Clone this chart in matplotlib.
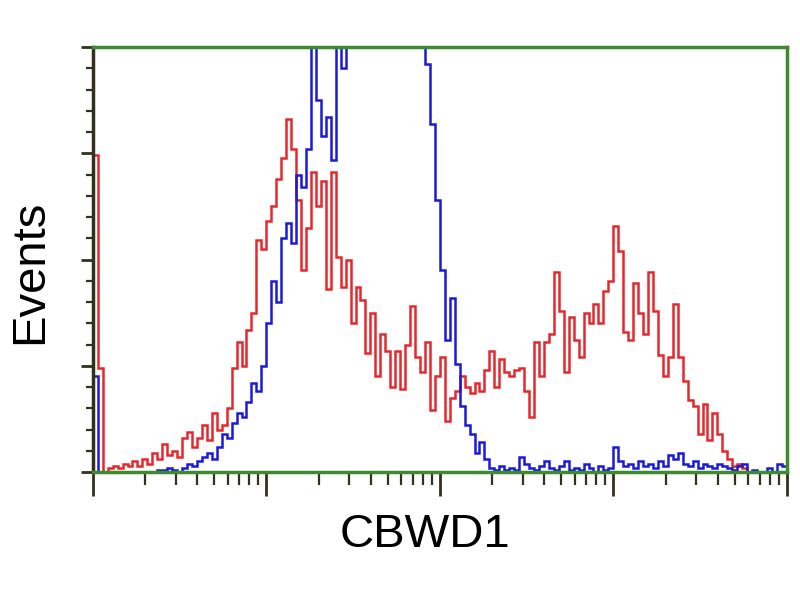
import numpy as np
import matplotlib
matplotlib.use("Agg")
import matplotlib.pyplot as plt
from matplotlib.ticker import LogLocator, MultipleLocator, NullFormatter

plt.rcParams['font.family'] = ['Liberation Sans', 'DejaVu Sans']

# Histogram channels: 35 per decade over 4 decades (10^0 .. 10^4)
chan_per_decade = 35
n_decades = 4

# Red histogram (sample), counts per channel
red_counts = [149, 49, 0, 2, 3, 2, 4, 3, 5, 3,
              6, 4, 9, 6, 13, 8, 10, 7, 16, 19,
              12, 16, 22, 15, 28, 20, 22, 30, 49, 61,
              50, 67, 75, 109, 105, 118, 125, 138, 148, 166,
              152, 128, 95, 115, 141, 125, 137, 86, 141, 101,
              87, 100, 70, 87, 81, 56, 75, 45, 65, 57,
              40, 57, 39, 60, 78, 54, 47, 61, 29, 45,
              54, 24, 35, 38, 45, 40, 37, 42, 38, 48,
              57, 40, 53, 47, 45, 48, 49, 38, 26, 61,
              45, 61, 65, 94, 76, 47, 73, 62, 54, 75,
              70, 79, 70, 85, 90, 116, 104, 66, 62, 89,
              75, 65, 94, 76, 55, 45, 54, 79, 54, 43,
              34, 31, 18, 32, 15, 28, 18, 10, 6, 3,
              4, 2, 0, 0, 0, 0, 0, 0, 0, 0]

# Blue histogram (control), counts per channel; peak runs off scale
blue_counts = [45, 0, 0, 0, 0, 0, 0, 0, 0, 0,
               0, 0, 0, 1, 1, 2, 1, 0, 2, 4,
               3, 5, 7, 9, 6, 12, 18, 16, 23, 28,
               26, 33, 42, 38, 50, 70, 90, 80, 110, 117,
               108, 140, 134, 152, 200, 175, 158, 167, 147, 215,
               190, 230, 250, 270, 290, 310, 320, 330, 325, 320,
               310, 290, 270, 250, 235, 220, 210, 192, 164, 128,
               95, 62, 82, 51, 31, 22, 18, 9, 14, 6,
               2, 1, 3, 1, 2, 1, 7, 4, 2, 1,
               3, 5, 2, 1, 3, 5, 1, 2, 1, 4,
               2, 0, 3, 1, 2, 12, 5, 3, 4, 2,
               5, 3, 4, 2, 5, 3, 8, 6, 9, 4,
               3, 5, 2, 4, 3, 2, 4, 3, 2, 1,
               3, 4, 0, 1, 0, 0, 2, 0, 4, 3]

edges = 10.0 ** (np.arange(chan_per_decade * n_decades + 1) / chan_per_decade)

green = '#3d8b2e'
dark = '#33301c'

fig = plt.figure(figsize=(8, 6), dpi=100)
ax = fig.add_axes([0.116, 0.2133, 0.8675, 0.7083])

ax.stairs(red_counts, edges, color='#e5282c', linewidth=1.8)
ax.stairs(blue_counts, edges, color='#1a1ad8', linewidth=1.8)

ax.set_xscale('log')
ax.set_xlim(1, 1e4)
ax.set_ylim(0, 200)

# Frame
for side in ['top', 'right', 'bottom']:
    ax.spines[side].set_color(green)
    ax.spines[side].set_linewidth(2.5)
ax.spines['left'].set_color(dark)
ax.spines['left'].set_linewidth(2.5)

# Ticks, no labels
ax.xaxis.set_major_locator(LogLocator(base=10, numticks=10))
ax.xaxis.set_minor_locator(LogLocator(base=10, subs=np.arange(2, 10), numticks=10))
ax.xaxis.set_major_formatter(NullFormatter())
ax.xaxis.set_minor_formatter(NullFormatter())
ax.yaxis.set_major_locator(MultipleLocator(50))
ax.yaxis.set_minor_locator(MultipleLocator(10))
ax.yaxis.set_major_formatter(NullFormatter())
ax.tick_params(axis='x', which='major', direction='out', length=17, width=2, color=dark)
ax.tick_params(axis='x', which='minor', direction='out', length=9, width=1.6, color=dark)
ax.tick_params(axis='y', which='major', direction='out', length=9, width=2, color=dark)
ax.tick_params(axis='y', which='minor', direction='out', length=5, width=1.6, color=dark)
ax.tick_params(top=False, right=False, which='both')

fig.text(425 / 800, 1 - 535 / 600, 'CBWD1', fontsize=34, ha='center', va='center')
fig.text(30 / 800, 1 - 272 / 600, 'Events', fontsize=34, ha='center', va='center',
         rotation=90)

fig.savefig('out.png', dpi=100)
